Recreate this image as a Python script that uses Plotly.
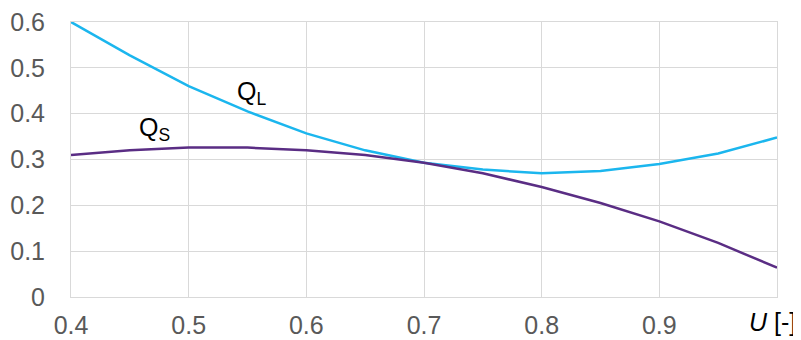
import plotly.graph_objects as go

U = [0.4, 0.45, 0.5, 0.55, 0.6, 0.65, 0.7, 0.75, 0.8, 0.85, 0.9, 0.95, 1.0]
Q_L = [0.60, 0.527, 0.460, 0.405, 0.357, 0.320, 0.293, 0.278, 0.270, 0.275, 0.290, 0.313, 0.348]
Q_S = [0.310, 0.320, 0.326, 0.326, 0.320, 0.310, 0.293, 0.270, 0.240, 0.205, 0.165, 0.118, 0.064]
x_ticks = [0.4, 0.5, 0.6, 0.7, 0.8, 0.9]
y_ticks = [0, 0.1, 0.2, 0.3, 0.4, 0.5, 0.6]

fig = go.Figure()
fig.add_trace(go.Scatter(x=U, y=Q_L, mode="lines", line=dict(color="#1BB6EE", width=2.5), name="QL"))
fig.add_trace(go.Scatter(x=U, y=Q_S, mode="lines", line=dict(color="#5A2D84", width=2.5), name="QS"))

font = "Liberation Sans, Arial, sans-serif"
fs = 25
# page body has an 8px margin, so the figure is sized/offset accordingly
fig.update_layout(
    width=793, height=332,
    margin=dict(l=63, r=24, t=14, b=43),
    plot_bgcolor="white", paper_bgcolor="white",
    showlegend=False,
    font=dict(family=font, size=fs, color="#595959"),
    xaxis=dict(range=[0.4, 1.0], tickvals=x_ticks, ticktext=[f"{v:.1f}" for v in x_ticks],
               tickfont=dict(family=font, size=fs, color="#595959"), automargin=False,
               showgrid=True, gridcolor="#D9D9D9", gridwidth=1,
               showline=True, linecolor="#D9D9D9", linewidth=1, mirror=True,
               zeroline=False, ticks="", ticklen=0, ticklabelstandoff=6,
               ticklabeloverflow="allow"),
    yaxis=dict(range=[0, 0.6], tickvals=y_ticks, ticktext=["0" if v == 0 else f"{v:.1f}" for v in y_ticks],
               tickfont=dict(family=font, size=fs, color="#595959"), automargin=False,
               showgrid=True, gridcolor="#D9D9D9", gridwidth=1,
               showline=True, linecolor="#D9D9D9", linewidth=1, mirror=True,
               zeroline=False, ticks="", ticklen=0, ticklabelstandoff=20,
               ticklabeloverflow="allow"),
)

fig.add_annotation(x=0.5393, y=0.445, xanchor="left", yanchor="middle", text="Q<sub>L</sub>", showarrow=False,
                   font=dict(family=font, size=fs, color="black"))
fig.add_annotation(x=0.456, y=0.367, xanchor="left", yanchor="middle", text="Q<sub>S</sub>", showarrow=False,
                   font=dict(family=font, size=fs, color="black"))
fig.add_annotation(xref="paper", yref="paper", x=1.03, y=-0.09, xanchor="right", yanchor="middle",
                   text="<i>U</i> [-]", showarrow=False,
                   font=dict(family=font, size=fs, color="black"))

fig.write_html("out.html")
